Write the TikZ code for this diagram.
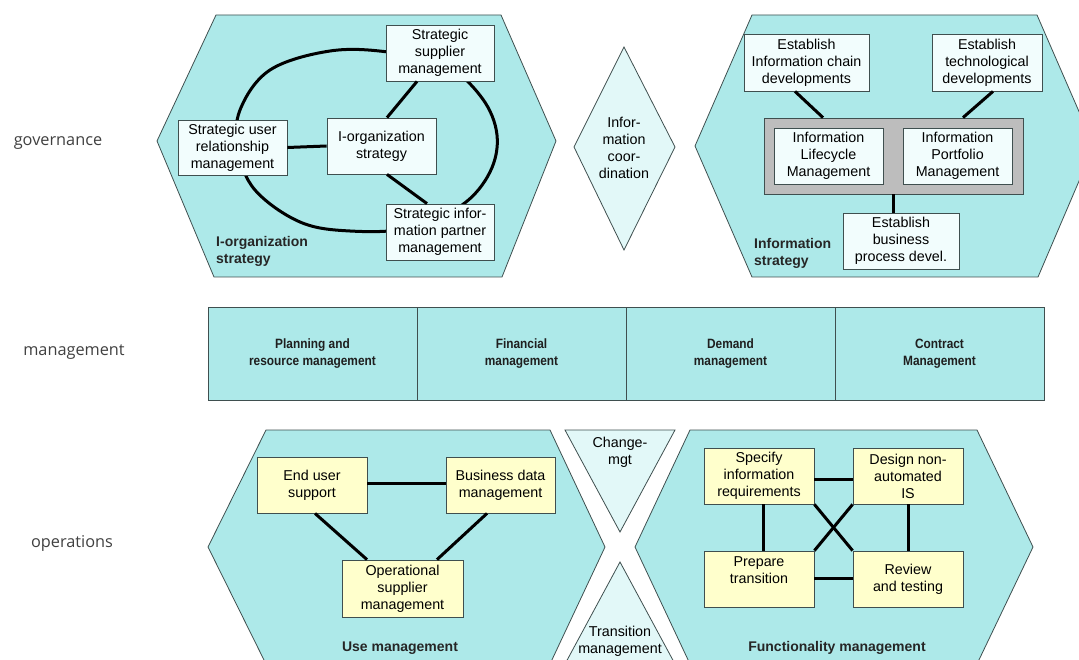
\documentclass[tikz,border=0pt]{standalone}
\usepackage{fontspec}
\setmainfont{Liberation Sans}
\newfontfamily\lblfont{Open Sans}
\newfontfamily\condfont[FakeStretch=0.88]{Liberation Sans}
\definecolor{hexc}{HTML}{ADE9E9}
\definecolor{litec}{HTML}{E2F8F8}
\definecolor{wc}{HTML}{F2FDFD}
\definecolor{yc}{HTML}{FFFFCC}
\definecolor{grayc}{HTML}{BDBDBD}
\definecolor{edgec}{HTML}{3F4F4F}
\tikzset{
 hex/.style={draw=edgec, fill=hexc, line width=0.8pt},
 lite/.style={draw=edgec, fill=litec, line width=0.8pt},
 boxbase/.style={draw=edgec, line width=0.8pt, align=center, inner sep=0pt, font=\fontsize{14.3}{17}\selectfont},
 wbox/.style={boxbase, fill=wc},
 ybox/.style={boxbase, fill=yc},
 graybox/.style={draw=edgec, line width=0.8pt, fill=grayc, inner sep=0pt},
 mcell/.style={draw=edgec, fill=hexc, line width=0.8pt, align=center, inner sep=0pt, minimum width=209pt, minimum height=93pt, text=black!88, font=\condfont\bfseries\fontsize{13.5}{17}\selectfont},
 conn/.style={line width=3pt, black},
 hexlabel/.style={font=\bfseries\fontsize{14}{17}\selectfont, text=black!85, inner sep=0pt},
 plain/.style={font=\fontsize{14.3}{17}\selectfont, align=center, inner sep=0pt},
 side/.style={font=\lblfont\fontsize{16.3}{19}\selectfont, text=black!75, inner sep=0pt},
}
\begin{document}
\begin{tikzpicture}[x=1pt,y=-1pt]
\useasboundingbox (0,0) rectangle (1079,660);
\clip (0,0) rectangle (1079,660);

% side labels
\node[side] (lgov) at (58,143) {governance};
\node[side] (lman) at (74,352) {management};
\node[side] (lops) at (72,543) {operations};

% ---------- governance: I-organization strategy ----------
\draw[hex] (157,141) -- (216,15) -- (501,15) -- (556,141) -- (502,277) -- (214,277) -- cycle;
\draw[conn] plot[smooth cycle, tension=0.6] coordinates {(330,51) (270,70) (240,110) (238,150) (255,190) (300,222) (350,231) (410,228) (462,205) (490,172) (497,135) (482,98) (445,65) (388,52)};
\node[wbox, minimum width=108pt, minimum height=56pt] (sup) at (440,53) {Strategic\\supplier\\management};
\node[wbox, minimum width=109pt, minimum height=55pt] (usr) at (232.5,147.5) {Strategic user\\relationship\\management};
\node[wbox, minimum width=109pt, minimum height=56pt] (iorg) at (381.5,146) {I-organization\\strategy};
\node[wbox, minimum width=108pt, minimum height=56pt] (par) at (440,232) {Strategic infor-\\mation partner\\management};
\draw[conn] ([xshift=-23pt]sup.south) -- ([xshift=5.5pt]iorg.north);
\draw[conn] ([xshift=5.5pt]iorg.south) -- ([xshift=-13pt]par.north);
\draw[conn] (usr.east) -- (iorg.west);
\node[hexlabel, anchor=west, align=left] (liorg) at (216,251) {I-organization\\strategy};

% ---------- information coordination diamond ----------
\draw[lite] (574,147) -- (624,47) -- (675,147) -- (624,250) -- cycle;
\node[plain] (icoord) at (624,148) {Infor-\\mation\\coor-\\dination};

% ---------- governance: Information strategy ----------
\draw[hex] (695,146) -- (752,15) -- (1037,15) -- (1094,146) -- (1038,277) -- (752,277) -- cycle;
\node[wbox, minimum width=125pt, minimum height=57pt] (ich) at (806.5,62.5) {Establish\\Information chain\\developments};
\node[wbox, minimum width=110pt, minimum height=57pt] (tech) at (987,62.5) {Establish\\technological\\developments};
\node[graybox, minimum width=259pt, minimum height=76pt] (grp) at (893.5,156) {};
\node[wbox, minimum width=109pt, minimum height=56pt] (ilm) at (828.5,156) {Information\\Lifecycle\\Management};
\node[wbox, minimum width=109pt, minimum height=56pt] (ipm) at (957.5,156) {Information\\Portfolio\\Management};
\node[wbox, minimum width=116pt, minimum height=56pt] (ebp) at (901,241) {Establish\\business\\process devel.};
\draw[conn] ([xshift=-11.5pt]ich.south) -- ([xshift=-70.5pt]grp.north);
\draw[conn] ([xshift=6pt]tech.south) -- ([xshift=69.5pt]grp.north);
\draw[conn] (grp.south) -- (grp.south |- ebp.north);
\node[hexlabel, anchor=west, align=left] (linfo) at (754,253) {Information\\strategy};

% ---------- management row ----------
\node[mcell] (m1) at (312.5,353.5) {Planning and\\resource management};
\node[mcell] (m2) at (521.5,353.5) {Financial\\management};
\node[mcell] (m3) at (730.5,353.5) {Demand\\management};
\node[mcell] (m4) at (939.5,353.5) {Contract\\Management};

% ---------- operations: Use management ----------
\draw[hex] (208,547) -- (266,430) -- (550,430) -- (605,547) -- (550,664) -- (266,664) -- cycle;
\node[ybox, minimum width=110pt, minimum height=56pt] (eus) at (312,485) {End user\\support};
\node[ybox, minimum width=109pt, minimum height=56pt] (bdm) at (500.5,485) {Business data\\management};
\node[ybox, minimum width=121pt, minimum height=57pt] (osm) at (402.5,588.5) {Operational\\supplier\\management};
\draw[conn] ([yshift=2pt]eus.east) -- ([yshift=2pt]bdm.west);
\draw[conn] ([xshift=3pt]eus.south) -- ([xshift=-35.5pt]osm.north);
\draw[conn] ([xshift=-13.5pt]bdm.south) -- ([xshift=34.5pt]osm.north);
\node[hexlabel] (luse) at (400,648) {Use management};

% ---------- change / transition triangles ----------
\draw[lite] (565,430) -- (675,430) -- (620,532) -- cycle;
\node[plain] (chg) at (620,452) {Change-\\mgt};
\draw[lite] (620,562) -- (675,664) -- (565,664) -- cycle;
\node[plain] (trn) at (620,641) {Transition\\management};

% ---------- operations: Functionality management ----------
\draw[hex] (635,547) -- (690,430) -- (977,430) -- (1033,547) -- (977,664) -- (690,664) -- cycle;
\node[ybox, minimum width=110pt, minimum height=56pt] (sir) at (759,476) {Specify\\information\\requirements};
\node[ybox, minimum width=110pt, minimum height=56pt] (dna) at (908,476) {Design non-\\automated\\IS};
\node[ybox, minimum width=110pt, minimum height=56pt] (prt) at (759,579) {Prepare\\transition\\~};
\node[ybox, minimum width=110pt, minimum height=56pt] (rat) at (908,579) {Review\\and testing};
\draw[conn] ([yshift=-3pt]sir.east) -- ([yshift=-3pt]dna.west);
\draw[conn] ([yshift=1pt]prt.east) -- ([yshift=1pt]rat.west);
\draw[conn] ([xshift=4pt]sir.south) -- ([xshift=4pt]prt.north);
\draw[conn] (dna.south) -- (rat.north);
\draw[conn] (sir.south east) -- (rat.north west);
\draw[conn] (dna.south west) -- (prt.north east);
\node[hexlabel] (lfun) at (837,648) {Functionality management};
\end{tikzpicture}
\end{document}
